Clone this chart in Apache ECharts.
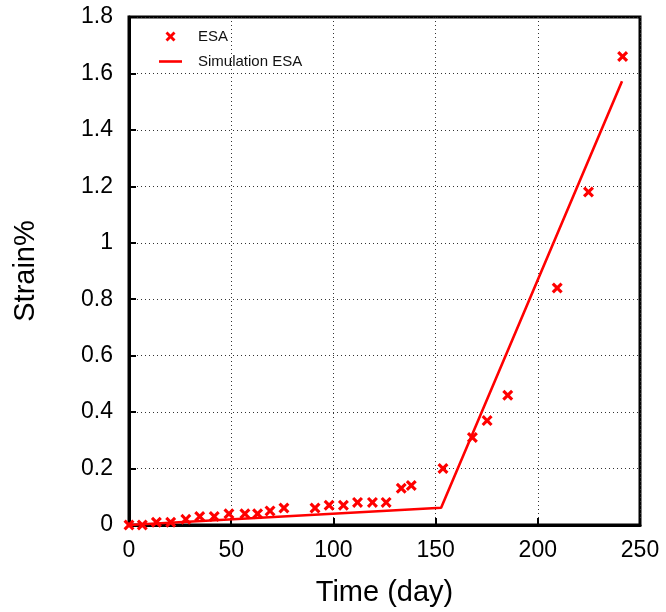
<!DOCTYPE html>
<html>
<head>
<meta charset="utf-8">
<script src="https://cdn.jsdelivr.net/npm/echarts@6/dist/echarts.min.js"></script>
<style>html,body{margin:0;padding:0;background:#fff}#c{width:666px;height:612px}</style>
</head>
<body>
<div id="c"></div>
<script>
// Measured ESA data
var esaDays   = [0, 6.5, 13.4, 20.4, 27.8, 34.6, 41.7, 48.9, 56.7, 62.9, 69, 75.8, 91, 97.9, 104.9, 111.8, 119.1, 125.8, 133.2, 138.1, 153.6, 168, 175.2, 185.3, 209.5, 224.8, 241.5];
var esaStrain = [0, 0, 0.01, 0.01, 0.02, 0.03, 0.03, 0.04, 0.04, 0.04, 0.05, 0.06, 0.06, 0.07, 0.07, 0.08, 0.08, 0.08, 0.13, 0.14, 0.2, 0.31, 0.37, 0.46, 0.84, 1.18, 1.66];
// Simulation ESA
var simDays   = [0, 152.7, 241.2];
var simStrain = [0, 0.061, 1.572];

var seriesNames = ['ESA', 'Simulation ESA'];
var xTitle = 'Time (day)';
var yTitle = 'Strain%';

var crossPath = 'path://M0,2L2,0L5,3L8,0L10,2L7,5L10,8L8,10L5,7L2,10L0,8L3,5Z';
var linePath = 'path://M0,0L23,0L23,2.6L0,2.6Z';
var FONT = '"Liberation Sans", Arial, Helvetica, sans-serif';

function pairs(xs, ys){ return xs.map(function(x,i){ return [x, ys[i]]; }); }

var chart = echarts.init(document.getElementById('c'), null, {renderer:'canvas'});
chart.setOption({
  backgroundColor: '#fff',
  animation: false,
  grid: { left: 129, right: 26, top: 17, bottom: 84, show: true, borderColor: '#000', borderWidth: 3, backgroundColor: 'transparent' },
  legend: {
    orient: 'vertical', left: 154, top: 24,
    itemWidth: 23, itemHeight: 10, itemGap: 10,
    textStyle: { fontFamily: FONT, fontSize: 15, color: '#111', padding: [0,0,0,11] },
    data: [ { name: seriesNames[0], icon: crossPath }, { name: seriesNames[1], icon: linePath } ]
  },
  xAxis: {
    type: 'value', min: 0, max: 250, interval: 50,
    name: xTitle, nameLocation: 'middle', nameGap: 53,
    nameTextStyle: { fontFamily: FONT, fontSize: 29, color: '#000' },
    axisLine: { show: true, onZero: false, lineStyle: { color: '#000', width: 3 } },
    axisTick: { show: true, inside: true, length: 7, lineStyle: { color: '#000', width: 2 } },
    axisLabel: { fontFamily: FONT, fontSize: 23, color: '#000', margin: 14 },
    splitLine: { show: true, lineStyle: { color: '#333', width: 1, type: [1, 3] } }
  },
  yAxis: {
    type: 'value', min: 0, max: 1.8, interval: 0.2,
    name: yTitle, nameLocation: 'middle', nameGap: 89,
    nameTextStyle: { fontFamily: FONT, fontSize: 29, color: '#000' },
    axisLine: { show: true, lineStyle: { color: '#000', width: 3 } },
    axisTick: { show: true, inside: true, length: 7, lineStyle: { color: '#000', width: 2 } },
    axisLabel: { fontFamily: FONT, fontSize: 23, color: '#000', margin: 16,
      formatter: function(v){ return String(Math.round(v*10)/10); } },
    splitLine: { show: true, lineStyle: { color: '#333', width: 1, type: [1, 3] } }
  },
  series: [
    { name: seriesNames[0], type: 'scatter', data: pairs(esaDays, esaStrain),
      symbol: crossPath, symbolSize: 11, itemStyle: { color: '#ff0000', opacity: 1 }, z: 4 },
    { name: seriesNames[1], type: 'line', data: pairs(simDays, simStrain),
      showSymbol: false, symbol: 'none', lineStyle: { color: '#ff0000', width: 2.6 }, itemStyle: { color: '#ff0000' }, z: 3 }
  ]
});
</script>
</body>
</html>
